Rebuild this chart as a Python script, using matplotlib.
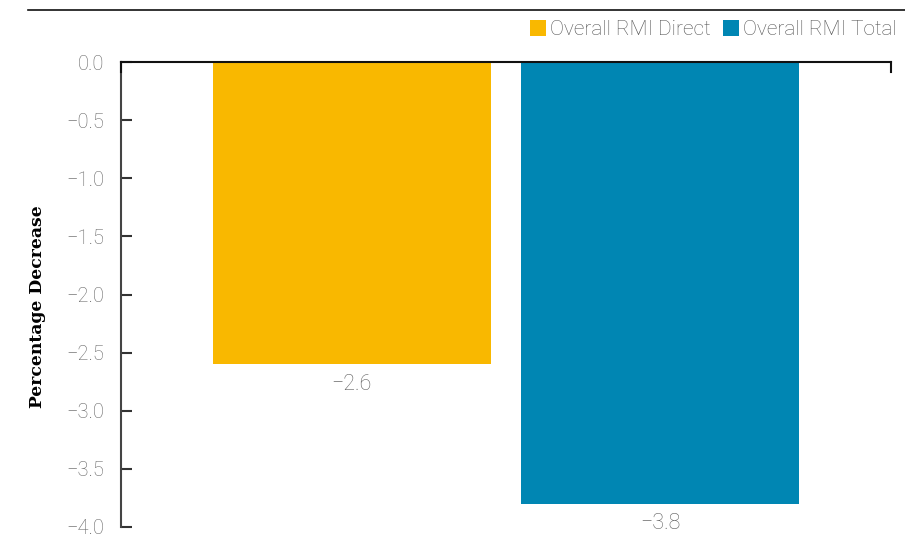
import matplotlib
matplotlib.use("Agg")
import matplotlib.pyplot as plt
from matplotlib.patches import Patch
from matplotlib.lines import Line2D

series = ["Overall RMI Direct", "Overall RMI Total"]
values = [-2.6, -3.8]
colors = ["#F9B800", "#0086B3"]
yticks = [0.0, -0.5, -1.0, -1.5, -2.0, -2.5, -3.0, -3.5, -4.0]

fig = plt.figure(figsize=(9.05, 5.37), dpi=100)
W, H = 905, 537
ax = fig.add_axes([121 / W, 1 - 527 / H, 770 / W, 465 / H])

offsets = [-0.2006, 0.2006]
width = 0.361
for v, c, o in zip(values, colors, offsets):
    ax.bar(o, v, width=width, color=c, zorder=1)
    ax.text(o, v - 0.08, f"{v:.1f}".replace("-", "\u2212"), ha="center", va="top",
            fontsize=15.5, color="#5f5f5f", family="Roboto", fontweight="light")

ax.set_xlim(-0.5, 0.5)
ax.set_ylim(-4.0, 0.0)
ax.set_yticks(yticks)
ax.set_yticklabels([f"{t:.1f}".replace("-", "\u2212") for t in yticks],
                   fontsize=14.5, color="#666666", family="Roboto", fontweight="light")
ax.tick_params(axis="y", direction="in", length=8, width=1.5, color="#333333", pad=12)
ax.set_xticks([])
for s in ["right", "bottom"]:
    ax.spines[s].set_visible(False)
ax.spines["left"].set_color("#444444")
ax.spines["left"].set_linewidth(1.5)
ax.spines["top"].set_color("#111111")
ax.spines["top"].set_linewidth(1.5)
# end ticks on zero line
for xe in (-0.5, 0.5):
    ax.plot([xe, xe], [0, -0.09], color="#111111", lw=1.5, clip_on=False, zorder=3)

ax.set_ylabel("Percentage Decrease", fontsize=12.3, fontweight="heavy",
              family="DejaVu Serif")
ax.yaxis.set_label_coords(-0.097, 0.473)

# top rule
fig.add_artist(Line2D([28 / W, 1.0], [1 - 10 / H, 1 - 10 / H], color="#111111", lw=1.2))

handles = [Patch(facecolor=c, edgecolor="none") for c in colors]
leg = fig.legend(handles, series, loc="upper right", bbox_to_anchor=(1.0, 1 - 12 / H),
                 ncol=2, frameon=False, handlelength=0.75, handleheight=0.75,
                 handletextpad=0.2, columnspacing=0.6, borderaxespad=0.0,
                 prop={"family": "Roboto", "weight": "light", "size": 15})
for t in leg.get_texts():
    t.set_color("#555555")

fig.savefig("out.png", dpi=100)
